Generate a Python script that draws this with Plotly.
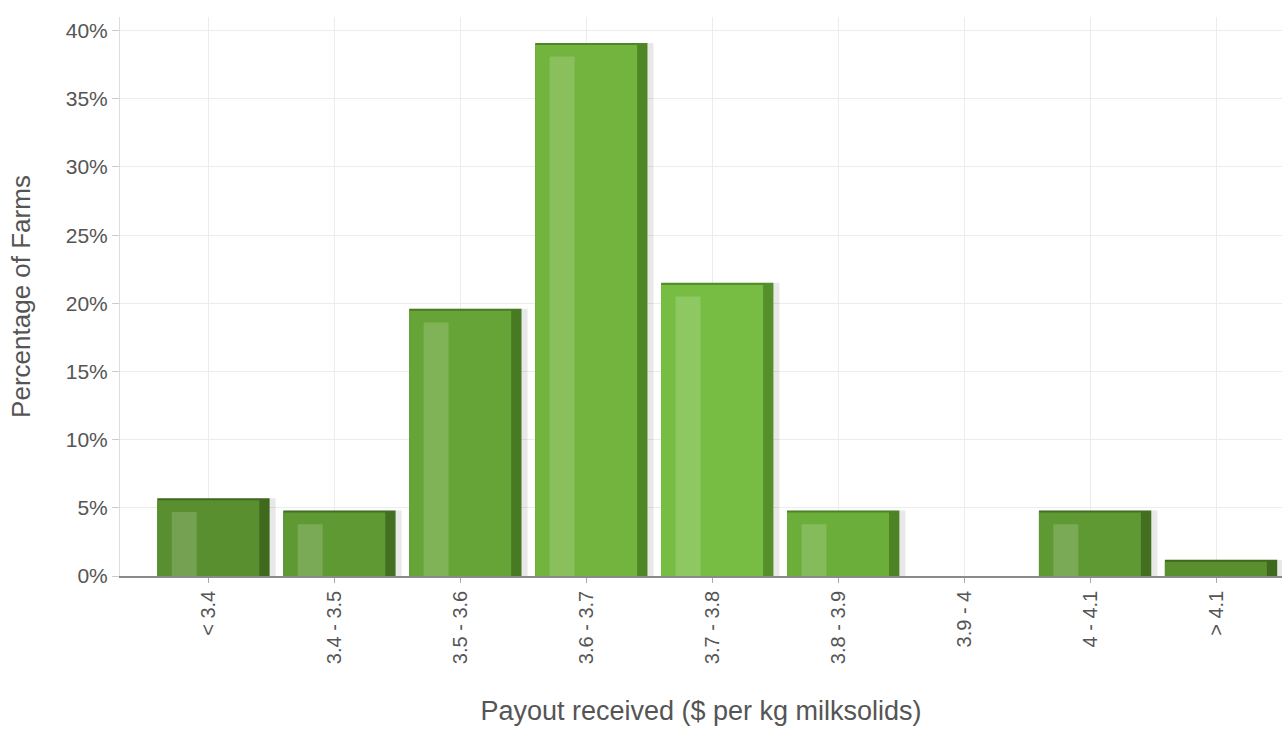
import plotly.graph_objects as go

categories = ["< 3.4", "3.4 - 3.5", "3.5 - 3.6", "3.6 - 3.7", "3.7 - 3.8",
              "3.8 - 3.9", "3.9 - 4", "4 - 4.1", "> 4.1"]
percent_farms = [5.7, 4.8, 19.6, 39.1, 21.5, 4.8, 0.0, 4.8, 1.2]
y_tick_vals = [0, 5, 10, 15, 20, 25, 30, 35, 40]
y_tick_text = ["0%", "5%", "10%", "15%", "20%", "25%", "30%", "35%", "40%"]

face_colors = ["#5a8f2f", "#5f9933", "#67a437", "#72b43d", "#78bd43",
               "#6cae3a", "#65a236", "#5f9933", "#5a8f2f"]
side_colors = ["#3f6a1e", "#426f20", "#477a23", "#4f8727", "#548f2a",
               "#4d8226", "#477a23", "#426f20", "#3f6a1e"]

face_vals = [max(v - 0.15, 0) for v in percent_farms]
hl_vals = [(v - 1.0) if v > 2 else 0 for v in percent_farms]

fig = go.Figure()
fig.add_trace(go.Bar(x=categories, y=percent_farms, offset=-0.38, width=0.91,
                     marker=dict(color="rgba(0,0,0,0.09)", line=dict(width=0)),
                     hoverinfo="skip", showlegend=False))
fig.add_trace(go.Bar(x=categories, y=percent_farms, offset=-0.41, width=0.892,
                     marker=dict(color=side_colors, line=dict(width=0)),
                     showlegend=False))
fig.add_trace(go.Bar(x=categories, y=face_vals, offset=-0.41, width=0.81,
                     marker=dict(color=face_colors, line=dict(width=0)),
                     hoverinfo="skip", showlegend=False))
fig.add_trace(go.Bar(x=categories, y=hl_vals, offset=-0.295, width=0.198,
                     marker=dict(color="rgba(255,255,255,0.17)", line=dict(width=0)),
                     hoverinfo="skip", showlegend=False))

fig.update_layout(
    barmode="overlay",
    width=1288, height=729,
    margin=dict(l=120, r=6, t=17, b=153),
    paper_bgcolor="white", plot_bgcolor="white",
    font=dict(family="Liberation Sans, Arial, sans-serif", color="#555555"),
    xaxis=dict(
        title=dict(text="Payout received ($ per kg milksolids)",
                   font=dict(size=27, color="#555555"), standoff=38),
        range=[-0.706, 8.52],
        tickangle=-90, tickfont=dict(size=20, color="#555555"),
        showgrid=True, gridcolor="#ececec", gridwidth=1,
        ticks="outside", ticklen=5, tickcolor="#aaaaaa",
        showline=True, linecolor="#8a8a8a", linewidth=1.5,
    ),
    yaxis=dict(
        title=dict(text="Percentage of Farms", font=dict(size=26, color="#555555"),
                   standoff=27),
        range=[0, 41], tickvals=y_tick_vals, ticktext=y_tick_text,
        tickfont=dict(size=21, color="#555555"),
        showgrid=True, gridcolor="#ececec", gridwidth=1,
        ticks="outside", ticklen=7, tickcolor="#cccccc",
        showline=True, linecolor="#dddddd", zeroline=False,
    ),
)

fig.write_html("out.html", config={"displayModeBar": False},
               post_script="document.body.style.margin='0';")
